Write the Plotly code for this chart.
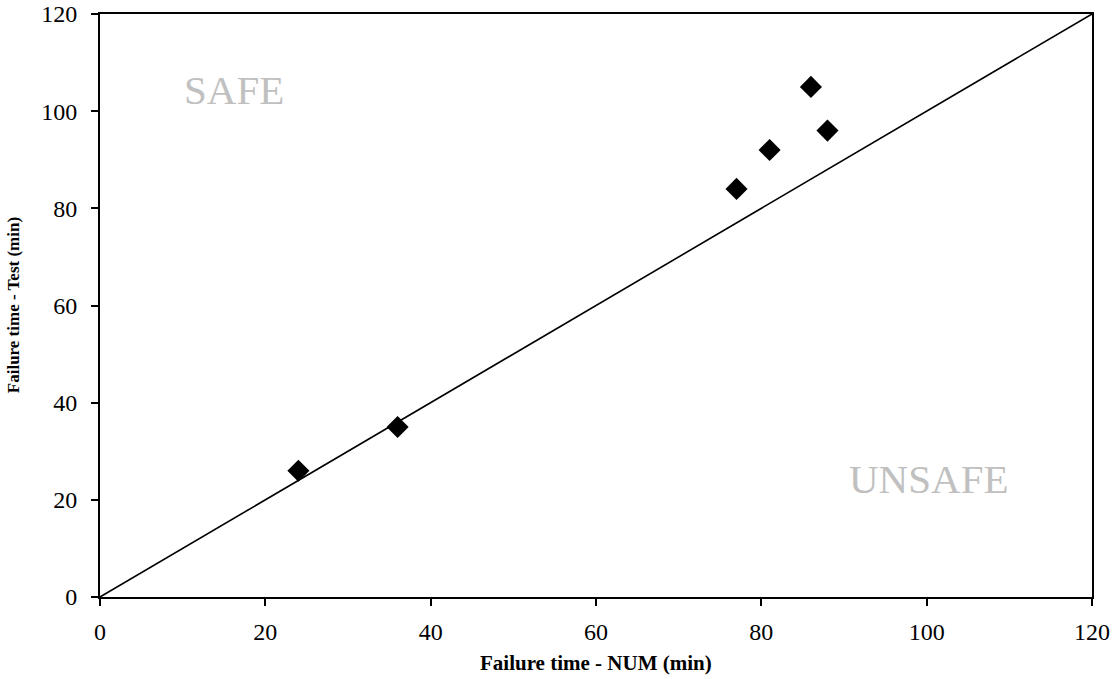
import plotly.graph_objects as go

# Failure times: numerical model vs. fire test (minutes)
num_time = [24, 36, 77, 81, 86, 88]
test_time = [26, 35, 84, 92, 105, 96]

# Line of equality
ref_x = [0, 120]
ref_y = [0, 120]

tick_vals = [0, 20, 40, 60, 80, 100, 120]

fig = go.Figure()
fig.add_trace(go.Scatter(
    x=ref_x, y=ref_y, mode="lines",
    line=dict(color="black", width=1.6),
    hoverinfo="skip", showlegend=False,
))
fig.add_trace(go.Scatter(
    x=num_time, y=test_time, mode="markers",
    marker=dict(symbol="diamond", size=17, color="black"),
    showlegend=False,
))

axis_common = dict(
    range=[0, 120], tickvals=tick_vals,
    showgrid=False, zeroline=False, automargin=False,
    showline=True, linecolor="black", linewidth=2, mirror=True,
    ticks="outside", ticklen=7, tickwidth=2, tickcolor="black",
    tickfont=dict(family="Liberation Serif", size=24, color="black"),
)

fig.update_layout(
    width=1113, height=679,
    margin=dict(l=100, r=21, t=14, b=82),
    paper_bgcolor="white", plot_bgcolor="white",
    xaxis=dict(**axis_common, ticklabelstandoff=5),
    yaxis=dict(**axis_common, ticklabelstandoff=9),
    annotations=[
        dict(x=0.5, y=-0.113, xref="paper", yref="paper",
             xanchor="center", yanchor="middle", showarrow=False,
             text="<b>Failure time - NUM (min)</b>",
             font=dict(family="Liberation Serif", size=21, color="black")),
        dict(x=-0.087, y=0.5, xref="paper", yref="paper", textangle=-90,
             xanchor="center", yanchor="middle", showarrow=False,
             text="<b>Failure time - Test (min)</b>",
             font=dict(family="Liberation Serif", size=17, color="black")),
        dict(x=16.2, y=104.4, xref="x", yref="y", text="SAFE", showarrow=False,
             font=dict(family="Liberation Serif", size=41, color="#c0c0c0")),
        dict(x=100.2, y=24.3, xref="x", yref="y", text="UNSAFE", showarrow=False,
             font=dict(family="Liberation Serif", size=41, color="#c0c0c0")),
    ],
)

fig.write_html("out.html")
